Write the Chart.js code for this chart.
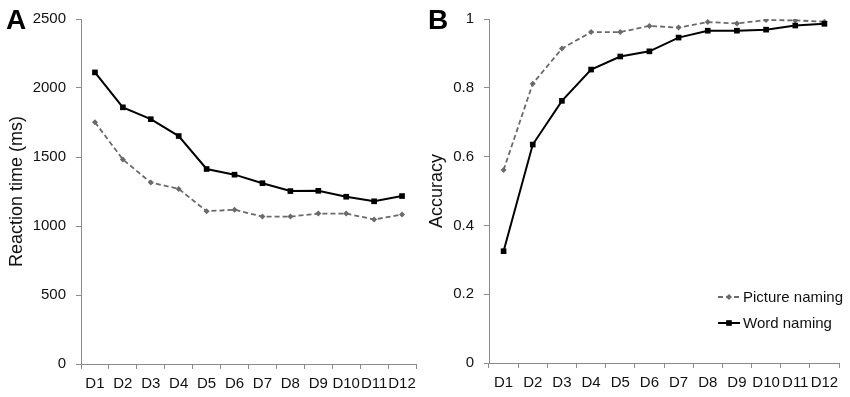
<!DOCTYPE html>
<html>
<head>
<meta charset="utf-8">
<script src="https://cdn.jsdelivr.net/npm/chart.js@4.4.1/dist/chart.umd.min.js"></script>
<style>
  html, body { margin: 0; padding: 0; background: #fff; }
  #wrap { position: relative; width: 850px; height: 397px; }
  canvas { position: absolute; top: 0; }
  #cA { left: 0; }
  #cB { left: 425px; }
</style>
</head>
<body>
<div id="wrap">
  <canvas id="cA" width="425" height="397"></canvas>
  <canvas id="cB" width="425" height="397"></canvas>
</div>
<script>
// data
const days = ['D1', 'D2', 'D3', 'D4', 'D5', 'D6', 'D7', 'D8', 'D9', 'D10', 'D11', 'D12'];
const seriesNames = ['Picture naming', 'Word naming'];

const rtPicture = [1752, 1482, 1315, 1269, 1107, 1118, 1068, 1068, 1090, 1090, 1047, 1083];
const rtWord = [2113, 1860, 1774, 1652, 1413, 1372, 1310, 1253, 1255, 1212, 1179, 1217];
const rtTicks = [0, 500, 1000, 1500, 2000, 2500];

const accPicture = [0.561, 0.812, 0.914, 0.962, 0.962, 0.980, 0.975, 0.991, 0.987, 0.997, 0.996, 0.992];
const accWord = [0.325, 0.635, 0.762, 0.853, 0.891, 0.906, 0.946, 0.966, 0.966, 0.969, 0.981, 0.986];
const accTicks = [0, 0.2, 0.4, 0.6, 0.8, 1];

const FONT = '"Liberation Sans", Arial, sans-serif';
const AXIS = '#8a8a8a';
const PIC = '#6a6a6a';
const WORD = '#000000';

function makeSets(pic, word) {
    return [
        { label: seriesNames[0], data: pic, borderColor: PIC, backgroundColor: PIC, borderWidth: 1.8,
          borderDash: [5, 3], pointStyle: 'rectRot', pointRadius: 3, pointBorderWidth: 0, order: 1 },
        { label: seriesNames[1], data: word, borderColor: WORD, backgroundColor: WORD, borderWidth: 2,
          pointStyle: 'rect', pointRadius: 4, pointBorderWidth: 0, order: 0 }
    ];
}

// panel letter + (optionally) legend drawn inside the plot
const extras = {
    id: 'extras',
    afterDraw(chart, args, opts) {
        const ctx = chart.ctx;
        ctx.save();
        ctx.fillStyle = '#000';
        ctx.font = 'bold 28px ' + FONT;
        ctx.textBaseline = 'alphabetic';
        ctx.fillText(opts.letter, opts.letterX, 29);

        if (opts.legend) {
            ctx.font = '15px ' + FONT;
            ctx.textBaseline = 'middle';
            const rows = [297, 323];
            chart.data.datasets.forEach((ds, i) => {
                const y = rows[i];
                ctx.strokeStyle = ds.borderColor;
                ctx.lineWidth = ds.borderWidth;
                ctx.setLineDash(ds.borderDash || []);
                ctx.beginPath();
                ctx.moveTo(293, y);
                ctx.lineTo(315, y);
                ctx.stroke();
                ctx.setLineDash([]);
                ctx.fillStyle = ds.backgroundColor;
                Chart.helpers.drawPoint(ctx, { pointStyle: ds.pointStyle, radius: ds.pointRadius, borderWidth: 0 }, 304, y);
                ctx.fillStyle = '#111';
                ctx.fillText(ds.label, 318, y + 1);
            });
        }
        ctx.restore();
    }
};

function makeOptions(ticks, title, yWidth, titlePad, rightPad, xHeight, letter, letterX, legend) {
    return {
        responsive: false,
        animation: false,
        layout: { padding: { top: 14, right: rightPad, left: 0, bottom: 0 } },
        plugins: {
            legend: { display: false },
            tooltip: { enabled: false },
            extras: { letter: letter, letterX: letterX, legend: legend }
        },
        scales: {
            x: {
                offset: true,
                grid: { display: true, drawOnChartArea: false, drawTicks: true, tickLength: 5, color: AXIS, offset: true },
                border: { color: AXIS, width: 1 },
                ticks: { color: '#111', font: { family: FONT, size: 15 }, autoSkip: false, maxRotation: 0, padding: 6 },
                afterFit(s) { s.height = xHeight; }
            },
            y: {
                min: ticks[0],
                max: ticks[ticks.length - 1],
                grid: { display: true, drawOnChartArea: false, drawTicks: true, tickLength: 5, color: AXIS },
                border: { color: AXIS, width: 1 },
                ticks: { color: '#111', font: { family: FONT, size: 15 }, padding: 10,
                         stepSize: ticks[1] - ticks[0],
                         callback: v => String(+v.toFixed(2)) },
                title: { display: true, text: title, color: '#111', font: { family: FONT, size: 18 },
                         padding: { top: titlePad, bottom: 0 } },
                afterFit(s) { s.width = yWidth; }
            }
        }
    };
}

new Chart(document.getElementById('cA'), {
    type: 'line',
    data: { labels: days, datasets: makeSets(rtPicture, rtWord) },
    options: makeOptions(rtTicks, 'Reaction time (ms)', 81, 6, 9, 33, 'A', 6, false),
    plugins: [extras]
});

new Chart(document.getElementById('cB'), {
    type: 'line',
    data: { labels: days, datasets: makeSets(accPicture, accWord) },
    options: makeOptions(accTicks, 'Accuracy', 64, 1, 11, 34, 'B', 3, true),
    plugins: [extras]
});
</script>
</body>
</html>
